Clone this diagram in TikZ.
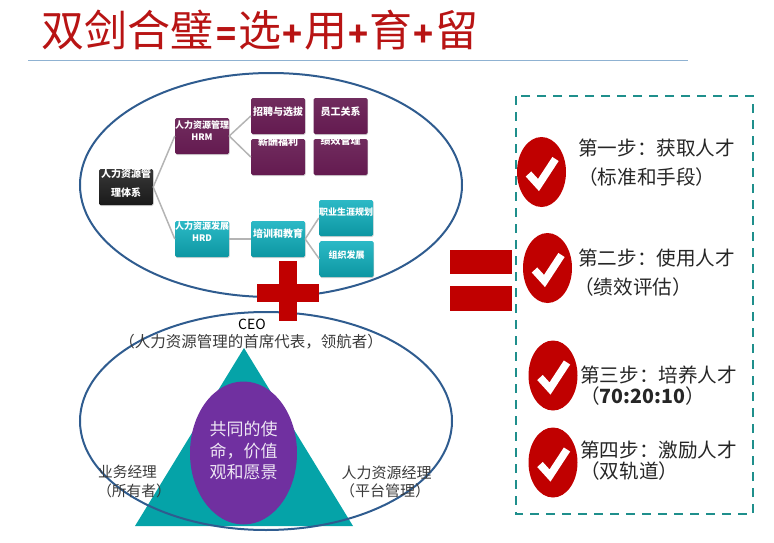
\documentclass[tikz,border=0pt]{standalone}
\usepackage{fontspec}
\setmainfont{Noto Sans CJK SC}
\usetikzlibrary{shadows,shapes.geometric}
\definecolor{titlered}{HTML}{B81414}
\definecolor{crossred}{HTML}{C00000}
\definecolor{ringblue}{HTML}{2F5C8F}
\definecolor{ruleblue}{HTML}{8FB2D2}
\definecolor{plum}{HTML}{641A50}
\definecolor{aqua}{HTML}{0FB0BE}
\definecolor{dashteal}{HTML}{1F8F8C}
\definecolor{triteal}{HTML}{05A3A8}
\definecolor{midpurple}{HTML}{7030A0}
\definecolor{linkgrey}{HTML}{B4B4B4}
\definecolor{labelgrey}{HTML}{3A3A3A}
\newcommand{\fs}[1]{\fontsize{#1}{#1}\selectfont}
\newcommand{\lab}[2]{\smash{\raisebox{#1}{\makebox[0pt]{#2}}}}
\newcommand{\tsym}[2]{\makebox[#1]{\fs{33}\bfseries #2}}
\tikzset{
  orgbox/.style={rounded corners=1.5pt,minimum width=54pt,minimum height=36pt,inner sep=0pt,
    text=white,font=\fs{10}\bfseries,drop shadow={shadow xshift=0.6pt,shadow yshift=-1pt,opacity=.35}},
  plumbox/.style={orgbox,top color=plum!92!white,bottom color=plum},
  aquabox/.style={orgbox,top color=aqua!88!white,bottom color=aqua!85!black},
  blackbox/.style={orgbox,top color=black!78,bottom color=black!90},
  link/.style={draw=linkgrey,line width=1.5pt},
  ring/.style={draw=ringblue,line width=2pt},
  bar/.style={fill=crossred,draw=none},
  txt/.style={inner sep=0pt,text=labelgrey},
  steptxt/.style={inner sep=0pt,anchor=west,text=black!85,font=\fs{19.6}},
  badge/.pic={
    \fill[crossred] (0,0) ellipse [x radius=24.5,y radius=35];
    \draw[white,line width=7.5pt] (-13,2) -- (-3,13) -- (14,-13);
  }
}
\begin{document}
\begin{tikzpicture}[x=1pt,y=-1pt]
\useasboundingbox (0,0) rectangle (774,543);
% title
\node[inner sep=0pt,anchor=west,text=titlered,font=\fs{43}] (title) at (41.5,30) {双剑合璧\tsym{25pt}{=}选\tsym{22.5pt}{+}用\tsym{22.5pt}{+}育\tsym{22.5pt}{+}留};
\coordinate (ruleL) at (28,61);
\coordinate (ruleR) at (688,61);
\draw[ruleblue,line width=1pt] (ruleL) -- (ruleR);
% upper ring
\node[ring,ellipse,minimum width=382pt,minimum height=224pt,inner sep=0pt] (ringA) at (271,185) {};
% org chart boxes
\node[blackbox] (sys) at (126,187) {\lab{9.5pt}{人力资源管}\lab{-9.5pt}{理体系}};
\node[plumbox] (hrm) at (202,136) {\lab{7.8pt}{\fs{9}人力资源管理}\lab{-4.2pt}{\fs{9}HRM}};
\node[plumbox] (zp) at (278,116) {\lab{0.5pt}{招聘与选拔}};
\node[plumbox] (yg) at (340.5,116) {\lab{0.5pt}{员工关系}};
\node[plumbox] (xc) at (278,157) {\lab{11.5pt}{薪酬福利}};
\node[plumbox] (jx) at (340.5,157) {\lab{12.5pt}{绩效管理}};
\node[aquabox] (hrd) at (202,239) {\lab{10pt}{\fs{9}人力资源发展}\lab{-2.5pt}{\fs{9}HRD}};
\node[aquabox] (px) at (278,239) {\lab{1.5pt}{培训和教育}};
\node[aquabox] (zy) at (346,218) {\lab{3pt}{\fs{9}职业生涯规划}};
\node[aquabox] (zz) at (346.5,259) {\lab{1pt}{\fs{9}组织发展}};
\draw[link] (sys.east) -- (hrm.west);
\draw[link] (sys.east) -- (hrd.west);
\draw[link] (hrm.east) -- (zp.west);
\draw[link] (hrm.east) -- (xc.west);
\draw[link] (hrd.east) -- (px.west);
\draw[link] (px.east) -- (zy.west);
\draw[link] (px.east) -- (zz.west);
% lower ring
\coordinate (triA) at (244,348);
\coordinate (triB) at (135,526);
\coordinate (triC) at (353,526);
\fill[triteal] (triA) -- (triB) -- (triC) -- cycle;
\node[ring,ellipse,minimum width=372pt,minimum height=218pt,inner sep=0pt] (ringB) at (266,421) {};
\node[ellipse,fill=midpurple,minimum width=107pt,minimum height=143pt,inner sep=0pt] (mission) at (243.5,453) {};
\node[inner sep=0pt,text=white!88!midpurple,font=\fs{17}] (m1) at (243.5,429) {共同的使};
\node[inner sep=0pt,text=white!88!midpurple,font=\fs{17}] (m2) at (243.5,451) {命，价值};
\node[inner sep=0pt,text=white!88!midpurple,font=\fs{17}] (m3) at (243.5,472) {观和愿景};
% plus
\path[bar] (279,261) rectangle (297,321);
\path[bar] (257,284) rectangle (319,302);
% labels
\node[inner sep=0pt,text=black,font=\fs{14}] (ceo) at (252,324) {CEO};
\node[txt,font=\fs{15.5}] (ceo2) at (251,342) {（人力资源管理的首席代表，领航者）};
\node[txt,font=\fs{14.7}] (bm1) at (127.5,472) {业务经理};
\node[txt,font=\fs{14.7}] (bm2) at (134,491) {（所有者）};
\node[txt,font=\fs{15}] (hr1) at (386.5,473) {人力资源经理};
\node[txt,font=\fs{15}] (hr2) at (385,491) {（平台管理）};
% equals
\path[bar] (450,250) rectangle (512,274);
\path[bar] (450,286) rectangle (512,311);
% dashed frame
\draw[dashteal,line width=2pt,dash pattern=on 9pt off 7pt] (516,96) rectangle (753,514);
% badges
\pic at (541.5,172) {badge};
\pic at (547.5,268) {badge};
\pic at (553,375.5) {badge};
\pic at (553,462.5) {badge};
% steps
\node[steptxt] (s1) at (578,148) {第一步：获取人才};
\node[steptxt] (s1b) at (578,177) {（标准和手段）};
\node[steptxt] (s2) at (578,258) {第二步：使用人才};
\node[steptxt] (s2b) at (574,287) {（绩效评估）};
\node[steptxt] (s3) at (580,375) {第三步：培养人才};
\node[steptxt] (s3b) at (580,396) {（\textbf{70:20:10}）};
\node[steptxt] (s4) at (580,450) {第四步：激励人才};
\node[steptxt] (s4b) at (580,471) {（双轨道）};
\end{tikzpicture}
\end{document}
